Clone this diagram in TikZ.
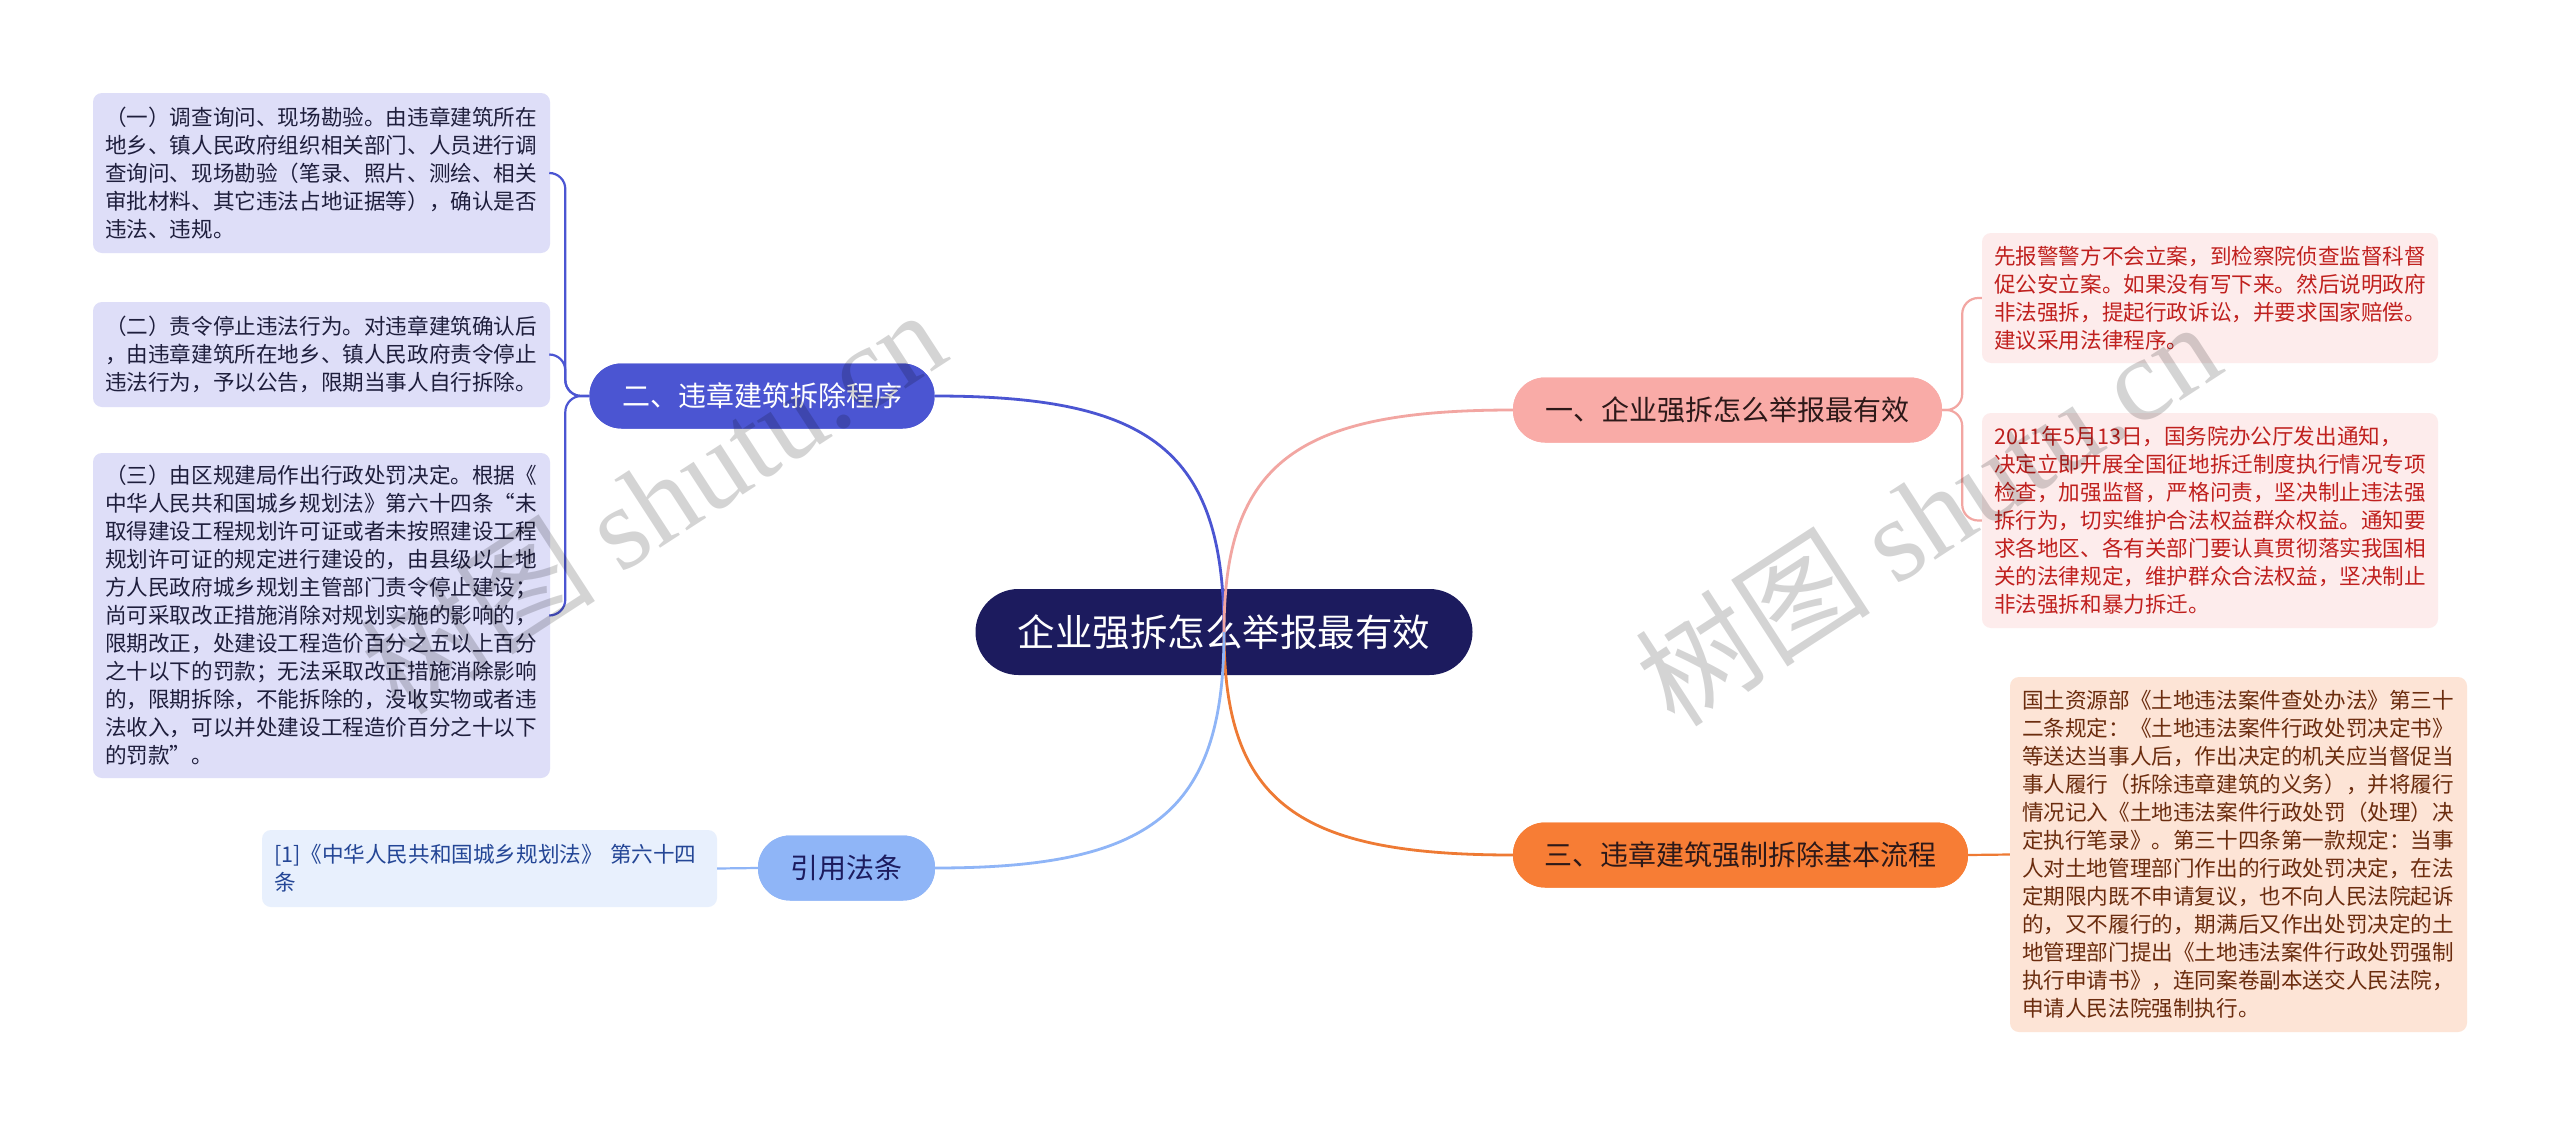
\documentclass[tikz,border=0pt]{standalone}
\usepackage{fontspec}
\setmainfont{Noto Sans CJK SC}
\newfontfamily\wmfont{Liberation Serif}
\definecolor{rootc}{RGB}{28,27,94}
\definecolor{bluec}{RGB}{75,85,210}
\definecolor{pinkc}{RGB}{249,171,167}
\definecolor{pinkl}{RGB}{242,166,162}
\definecolor{orangec}{RGB}{247,125,53}
\definecolor{orangel}{RGB}{238,122,52}
\definecolor{lbluec}{RGB}{143,181,247}
\definecolor{lavfill}{RGB}{222,222,248}
\definecolor{lavtext}{RGB}{30,30,60}
\definecolor{citefill}{RGB}{232,240,253}
\definecolor{citetext}{RGB}{36,70,150}
\definecolor{redfill}{RGB}{253,236,236}
\definecolor{redtext}{RGB}{192,32,30}
\definecolor{peachfill}{RGB}{253,228,214}
\definecolor{browntext}{RGB}{107,44,14}
\definecolor{darktext}{RGB}{45,25,25}
\tikzset{
  rootnode/.style={rounded corners=43pt, fill=rootc, text=white, minimum width=497pt, minimum height=86pt, inner sep=0pt, font=\fontsize{37.5}{44}\selectfont},
  mainnode/.style={rounded corners=32pt, minimum height=65pt, inner sep=0pt, font=\fontsize{28}{32}\selectfont},
  leafnode/.style={rounded corners=9pt, align=left, inner xsep=12pt, inner ysep=0pt, font=\fontsize{21.6}{28}\selectfont},
  thick line/.style={line width=2.8pt},
  bracket/.style={line width=2.2pt, rounded corners=16pt},
  wm/.style={rotate=33, text=black, opacity=0.17, font=\fontsize{118}{126}\selectfont}
}
\begin{document}
\begin{tikzpicture}[x=1pt,y=-1pt]
\useasboundingbox (0,0) rectangle (2560,1127);
\fill[white] (0,0) rectangle (2560,1127);

% root (connectors are drawn over it)
\node[rootnode] (root) at (1224,632) {企业强拆怎么举报最有效};
\coordinate (c) at (1224,632);

% main nodes
\node[mainnode, fill=bluec, text=white, minimum width=345pt] (n2) at (762,396) {二、违章建筑拆除程序};
\node[mainnode, fill=pinkc, text=darktext, minimum width=429pt] (n1) at (1727.5,410) {一、企业强拆怎么举报最有效};
\node[mainnode, fill=orangec, text=darktext, minimum width=455pt] (n3) at (1740.5,855) {三、违章建筑强制拆除基本流程};
\node[mainnode, fill=lbluec, text=rootc, minimum width=177pt] (n4) at (846.5,868) {引用法条};

% leaves
\node[leafnode, fill=lavfill, text=lavtext, text width=433pt, minimum height=160pt] (a1) at (321.5,173) {（一）调查询问、现场勘验。由违章建筑所在\\地乡、镇人民政府组织相关部门、人员进行调\\查询问、现场勘验（笔录、照片、测绘、相关\\审批材料、其它违法占地证据等），确认是否\\违法、违规。};
\node[leafnode, fill=lavfill, text=lavtext, text width=433pt, minimum height=105pt] (a2) at (321.5,354.5) {（二）责令停止违法行为。对违章建筑确认后\\，由违章建筑所在地乡、镇人民政府责令停止\\违法行为，予以公告，限期当事人自行拆除。};
\node[leafnode, fill=lavfill, text=lavtext, text width=433pt, minimum height=325pt] (a3) at (321.5,615.5) {（三）由区规建局作出行政处罚决定。根据《\\中华人民共和国城乡规划法》第六十四条“未\\取得建设工程规划许可证或者未按照建设工程\\规划许可证的规定进行建设的，由县级以上地\\方人民政府城乡规划主管部门责令停止建设；\\尚可采取改正措施消除对规划实施的影响的，\\限期改正，处建设工程造价百分之五以上百分\\之十以下的罚款；无法采取改正措施消除影响\\的，限期拆除，不能拆除的，没收实物或者违\\法收入，可以并处建设工程造价百分之十以下\\的罚款”。};
\node[leafnode, fill=citefill, text=citetext, text width=431pt, minimum height=77pt] (d1) at (489.5,868.5) {[1]《中华人民共和国城乡规划法》 第六十四\\条};
\node[leafnode, fill=redfill, text=redtext, text width=432pt, minimum height=130pt] (b1) at (2210,298) {先报警警方不会立案，到检察院侦查监督科督\\促公安立案。如果没有写下来。然后说明政府\\非法强拆，提起行政诉讼，并要求国家赔偿。\\建议采用法律程序。};
\node[leafnode, fill=redfill, text=redtext, text width=432pt, minimum height=215pt] (b2) at (2210,520.5) {2011年5月13日，国务院办公厅发出通知，\\决定立即开展全国征地拆迁制度执行情况专项\\检查，加强监督，严格问责，坚决制止违法强\\拆行为，切实维护合法权益群众权益。通知要\\求各地区、各有关部门要认真贯彻落实我国相\\关的法律规定，维护群众合法权益，坚决制止\\非法强拆和暴力拆迁。};
\node[leafnode, fill=peachfill, text=browntext, text width=433pt, minimum height=355pt] (e1) at (2238.5,854.5) {国土资源部《土地违法案件查处办法》第三十\\二条规定：《土地违法案件行政处罚决定书》\\等送达当事人后，作出决定的机关应当督促当\\事人履行（拆除违章建筑的义务），并将履行\\情况记入《土地违法案件行政处罚（处理）决\\定执行笔录》。第三十四条第一款规定：当事\\人对土地管理部门作出的行政处罚决定，在法\\定期限内既不申请复议，也不向人民法院起诉\\的，又不履行的，期满后又作出处罚决定的土\\地管理部门提出《土地违法案件行政处罚强制\\执行申请书》，连同案卷副本送交人民法院，\\申请人民法院强制执行。};

% connectors
\draw[thick line, bluec] (c) .. controls (1224,450) and (1150,396) .. (n2.east);
\draw[thick line, pinkl] (c) .. controls (1224,461) and (1299,410) .. (n1.west);
\draw[thick line, orangel] (c) .. controls (1224,804) and (1299,855) .. (n3.west);
\draw[thick line, lbluec] (c) .. controls (1224,814) and (1150,868) .. (n4.east);

\draw[bracket, bluec] (n2.west) -- ++(-24,0) |- (a1.east);
\draw[bracket, bluec] (n2.west) -- ++(-24,0) |- (a2.east);
\draw[bracket, bluec] (n2.west) -- ++(-24,0) |- (a3.east);
\draw[bracket, pinkl] (n1.east) -- ++(20,0) |- (b1.west);
\draw[bracket, pinkl] (n1.east) -- ++(20,0) |- (b2.west);
\draw[line width=2.2pt, orangel] (n3.east) -- (e1.west);
\draw[line width=2.2pt, lbluec] (n4.west) -- (d1.east);

% main nodes redrawn over connector ends
\node[mainnode, fill=bluec, text=white, minimum width=345pt] at (n2) {二、违章建筑拆除程序};
\node[mainnode, fill=pinkc, text=darktext, minimum width=429pt] at (n1) {一、企业强拆怎么举报最有效};
\node[mainnode, fill=orangec, text=darktext, minimum width=455pt] at (n3) {三、违章建筑强制拆除基本流程};
\node[mainnode, fill=lbluec, text=rootc, minimum width=177pt] at (n4) {引用法条};

% watermarks
\node[wm] (w1) at (652,500) {树图 {\wmfont shutu.cn}};
\node[wm] (w2) at (1927,512) {树图 {\wmfont shutu.cn}};
\end{tikzpicture}
\end{document}
